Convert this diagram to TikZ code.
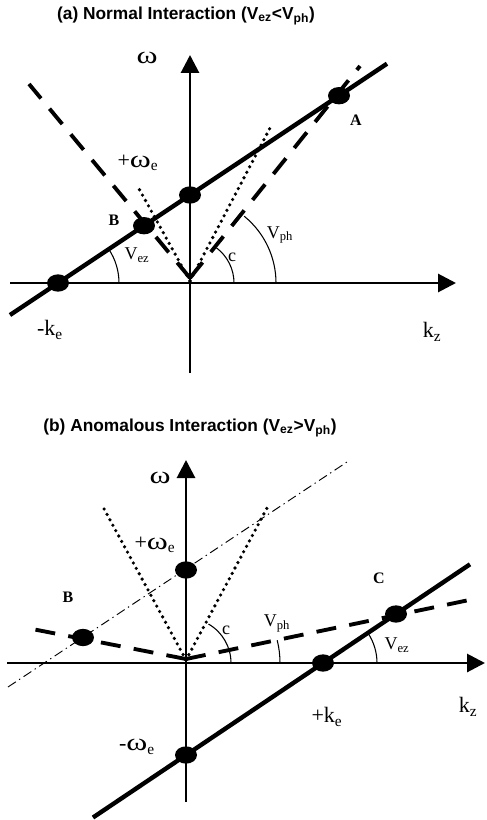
\documentclass[tikz,border=0pt]{standalone}
\usepackage{graphicx}
\usepackage{fontspec}
\setmainfont{Liberation Serif}
\newfontfamily\headfont{Liberation Sans}
\usetikzlibrary{arrows.meta,shapes.geometric}
\newcommand{\omw}{\scalebox{1.45}[1.1]{ω}}

\begin{document}
\begin{tikzpicture}[
  x=0.75pt, y=0.75pt,
  axis/.style={line width=2.2pt, -{Triangle[length=13.5pt, width=13.5pt]}},
  beam/.style={line width=3.3pt},
  wave/.style={line width=2.9pt, dash pattern=on 15pt off 10pt},
  light/.style={line width=2.7pt, line cap=round, dash pattern=on 0pt off 4.6pt},
  slow/.style={line width=0.7pt, dash pattern=on 7pt off 3pt on 1pt off 3pt},
  arcline/.style={line width=0.8pt},
  blob/.style={ellipse, fill=black, inner sep=0pt, minimum width=16.5pt, minimum height=13pt},
  lbl/.style={inner sep=0pt, font=\fontsize{16.5}{18}\selectfont},
  vlbl/.style={inner sep=0pt, font=\fontsize{13.5}{15}\selectfont},
  ptname/.style={inner sep=0pt, font=\fontsize{12}{14}\selectfont\bfseries},
  heading/.style={inner sep=0pt, font=\headfont\fontsize{13}{15}\selectfont\bfseries}
]
\useasboundingbox (0,0) rectangle (486,-820);

% (a) normal interaction
\node[heading] (titleA) at (186,-16) {(a) Normal Interaction (V\textsubscript{ez}<V\textsubscript{ph})};
\coordinate (oA) at (190,-283);
\coordinate (kzA0) at (10,-283);
\coordinate (kzA1) at (456,-283);
\coordinate (omA0) at (190,-373);
\coordinate (omA1) at (190,-55);
\coordinate (beamA0) at (10,-315);
\coordinate (beamA1) at (387,-63.7);
\coordinate (wavA) at (190,-278);
\coordinate (wavA0) at (29,-84);
\coordinate (wavA1) at (360,-66);
\coordinate (litA) at (190,-281);
\coordinate (litA0) at (138,-187);
\coordinate (litA1) at (270,-128);
\draw[axis] (kzA0) -- (kzA1);
\draw[axis] (omA0) -- (omA1);
\draw[wave] (wavA) -- (wavA0);
\draw[wave] (wavA) -- (wavA1);
\draw[light] (litA) -- (litA0);
\draw[light] (litA) -- (litA1);
\draw[beam] (beamA0) -- (beamA1);
\node[blob] (keA) at (58,-283) {};
\node[blob] (weA) at (190,-195) {};
\node[blob] (ptB) at (144,-225.7) {};
\node[blob] (ptA) at (339,-95.7) {};
\draw[arcline] ([shift={(61,0)}]keA.center) arc[start angle=0, end angle=33.7, radius=61];
\draw[arcline] ([shift={(44,0)}]oA) arc[start angle=0, end angle=53, radius=44];
\draw[arcline] ([shift={(86,0)}]oA) arc[start angle=0, end angle=51, radius=86];
\node[lbl] (omA) at (147,-58) {\omw};
\node[lbl] (kzA) at (432,-332) {k\textsubscript{z}};
\node[lbl] (keAl) at (50,-330) {-k\textsubscript{e}};
\node[lbl] (weAl) at (138,-163) {+\omw\textsubscript{e}};
\node[ptname] (ptBl) at (114,-220) {B};
\node[ptname] (ptAl) at (356,-120) {A};
\node[vlbl] (vezA) at (137,-255) {V\textsubscript{ez}};
\node[vlbl] (cA) at (232,-257) {c};
\node[vlbl] (vphA) at (280,-235) {V\textsubscript{ph}};

% (b) anomalous interaction
\node[heading] (titleB) at (190,-428) {(b) Anomalous Interaction (V\textsubscript{ez}>V\textsubscript{ph})};
\coordinate (oB) at (186,-663);
\coordinate (kzB0) at (7,-663);
\coordinate (kzB1) at (485,-663);
\coordinate (omB0) at (186,-802);
\coordinate (omB1) at (186,-460);
\coordinate (beamB0) at (93,-817.5);
\coordinate (beamB1) at (470,-564.3);
\coordinate (slowB0) at (8,-687);
\coordinate (slowB1) at (347,-462);
\coordinate (wavB) at (186,-659);
\coordinate (wavB0) at (27,-628);
\coordinate (wavB1) at (474,-599);
\coordinate (litB) at (186,-660);
\coordinate (litB0) at (103,-507);
\coordinate (litB1) at (267,-508);
\draw[axis] (kzB0) -- (kzB1);
\draw[axis] (omB0) -- (omB1);
\draw[slow] (slowB0) -- (slowB1);
\draw[light] (litB) -- (litB0);
\draw[light] (litB) -- (litB1);
\draw[wave] (wavB) -- (wavB0);
\draw[wave] (wavB) -- (wavB1);
\draw[beam] (beamB0) -- (beamB1);
\node[blob] (weB) at (186,-570) {};
\node[blob] (mweB) at (186,-755) {};
\node[blob] (keB) at (323,-663) {};
\node[blob] (ptC) at (396,-614) {};
\node[blob] (ptB2) at (83,-637.5) {};
\draw[arcline] ([shift={(45,0)}]oB) arc[start angle=0, end angle=60, radius=45];
\draw[arcline] ([shift={(94,0)}]oB) arc[start angle=0, end angle=14, radius=94];
\draw[arcline] ([shift={(54,0)}]keB.center) arc[start angle=0, end angle=33.9, radius=54];
\node[lbl] (omB) at (160,-478) {\omw};
\node[lbl] (kzB) at (468,-707) {k\textsubscript{z}};
\node[lbl] (keBl) at (327,-717) {+k\textsubscript{e}};
\node[lbl] (weBl) at (155,-545) {+\omw\textsubscript{e}};
\node[lbl] (mweBl) at (137,-747) {-\omw\textsubscript{e}};
\node[ptname] (ptB2l) at (68,-597) {B};
\node[ptname] (ptCl) at (379,-578) {C};
\node[vlbl] (vezB) at (397,-645) {V\textsubscript{ez}};
\node[vlbl] (cB) at (226,-630) {c};
\node[vlbl] (vphB) at (277,-623) {V\textsubscript{ph}};
\end{tikzpicture}
\end{document}
